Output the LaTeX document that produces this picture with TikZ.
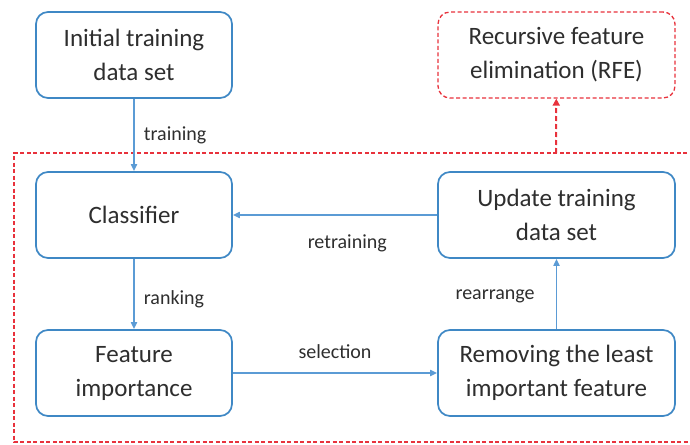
\documentclass[tikz,border=0pt]{standalone}
\usepackage{fontspec}
\setmainfont{Carlito}
\usetikzlibrary{arrows.meta}
\definecolor{boxblue}{HTML}{3F88C5}
\definecolor{arrblue}{HTML}{5B9BD5}
\definecolor{rfered}{HTML}{E8323C}
\definecolor{txt}{HTML}{2E2E2E}
\tikzset{
  stepbox/.style={draw=boxblue, line width=1.7pt, rounded corners=12pt, fill=white,
    minimum width=196pt, minimum height=86pt, align=center, text=txt,
    font=\fontsize{25}{34}\selectfont, inner sep=0pt},
  widebox/.style={stepbox, minimum width=237pt},
  rfebox/.style={widebox, draw=rfered, line width=1.3pt, dash pattern=on 4pt off 2.5pt},
  flow/.style={draw=arrblue, line width=1.8pt, -{Triangle[length=7pt,width=6pt]}},
  lbl/.style={text=txt, font=\fontsize{20}{22}\selectfont, inner sep=1pt},
}
\begin{document}
\begin{tikzpicture}[x=1pt,y=-1pt]
  \useasboundingbox (0,0) rectangle (690,444);
  % dashed RFE frame
  \draw[rfered, line width=1.1pt, dash pattern=on 4pt off 2.5pt] (700,153) -- (14,153) -- (14,442) -- (700,442);
  \coordinate (frametop) at (556,153);

  \node[stepbox] (init) at (134,55) {Initial training\\data set};
  \node[stepbox] (clf) at (134,215) {Classifier};
  \node[stepbox] (imp) at (134,373) {Feature\\importance};
  \node[widebox] (upd) at (556.5,215) {Update training\\data set};
  \node[widebox] (rem) at (556.5,373) {Removing the least\\important feature};
  \node[rfebox] (rfe) at (556.5,55) {Recursive feature\\elimination (RFE)};

  \draw[flow] (init) -- node[lbl, right=8pt, pos=0.5] {training} (clf);
  \draw[flow] (clf) -- node[lbl, right=8pt, pos=0.57] {ranking} (imp);
  \draw[flow] (upd) -- node[lbl, below=18pt, pos=0.44] {retraining} (clf);
  \draw[flow] (imp) -- node[lbl, above=12pt, pos=0.5] {selection} (rem);
  \draw[flow] (rem) -- node[lbl, left=20pt, pos=0.47] {rearrange} (upd);
  \draw[rfered, line width=2pt, dash pattern=on 5pt off 3pt, -{Triangle[length=7pt,width=7pt]}] (frametop) -- (rfe);
\end{tikzpicture}
\end{document}
